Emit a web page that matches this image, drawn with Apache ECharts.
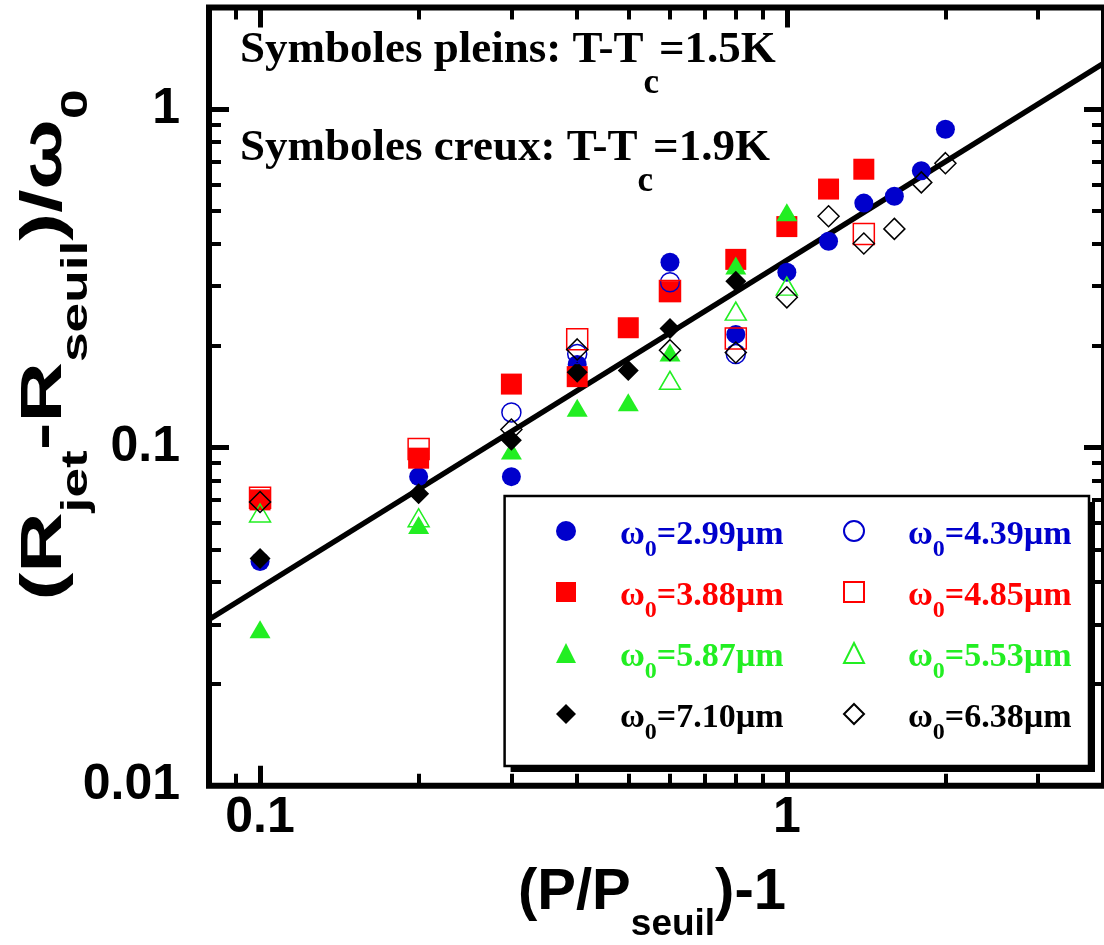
<!DOCTYPE html>
<html>
<head>
<meta charset="utf-8">
<script src="https://cdn.jsdelivr.net/npm/echarts@6/dist/echarts.min.js"></script>
<style>
html, body { margin: 0; padding: 0; background: #fff; }
#chart { width: 1104px; height: 945px; }
</style>
</head>
<body>
<div id="chart"></div>
<script>
// axes
var xRange = [0.08, 4];
var yRange = [0.01, 2];
var xMajor = [0.1, 1];
var xMajorLabels = ['0.1', '1'];
var xMinor = [0.09, 0.2, 0.3, 0.4, 0.5, 0.6, 0.7, 0.8, 0.9, 2, 3];
var yMajor = [0.01, 0.1, 1];
var yMajorLabels = ['0.01', '0.1', '1'];
var yMinor = [0.02, 0.03, 0.04, 0.05, 0.06, 0.07, 0.08, 0.09, 0.2, 0.3, 0.4, 0.5, 0.6, 0.7, 0.8, 0.9, 2];

// symboles pleins : T-Tc = 1.5K
var blueFullX = [0.1, 0.2, 0.3, 0.4, 0.6, 0.8, 1.0, 1.2, 1.4, 1.6, 1.8, 2.0];
var blueFullY = [0.046, 0.082, 0.082, 0.176, 0.353, 0.216, 0.330, 0.407, 0.528, 0.553, 0.658, 0.873];
var redFullX = [0.1, 0.2, 0.3, 0.4, 0.5, 0.6, 0.8, 1.0, 1.2, 1.4];
var redFullY = [0.070, 0.093, 0.154, 0.162, 0.226, 0.289, 0.360, 0.450, 0.581, 0.665];
var greenFullX = [0.1, 0.2, 0.3, 0.4, 0.5, 0.6, 0.8, 1.0];
var greenFullY = [0.029, 0.059, 0.098, 0.131, 0.136, 0.191, 0.345, 0.496];
var blackFullX = [0.1, 0.2, 0.3, 0.4, 0.5, 0.6, 0.8];
var blackFullY = [0.047, 0.073, 0.105, 0.167, 0.169, 0.225, 0.310];

// symboles creux : T-Tc = 1.9K
var blueOpenX = [0.3, 0.4, 0.6, 0.8];
var blueOpenY = [0.127, 0.189, 0.308, 0.189];
var redOpenX = [0.1, 0.2, 0.4, 0.6, 0.8, 1.4];
var redOpenY = [0.071, 0.099, 0.209, 0.290, 0.210, 0.428];
var greenOpenX = [0.1, 0.2, 0.6, 0.8, 1.0];
var greenOpenY = [0.064, 0.062, 0.158, 0.253, 0.300];
var blackOpenX = [0.1, 0.3, 0.4, 0.6, 0.8, 1.0, 1.2, 1.4, 1.6, 1.8, 2.0];
var blackOpenY = [0.069, 0.113, 0.195, 0.194, 0.191, 0.278, 0.483, 0.401, 0.443, 0.608, 0.693];

// droite d'ajustement
var fitX = [0.08, 4];
var fitY = [0.031, 1.37];

var waistFull = ['2.99', '3.88', '5.87', '7.10'];
var waistOpen = ['4.39', '4.85', '5.53', '6.38'];
var colors = ['#0000cc', '#ff0000', '#22ee22', '#000000'];

var SANS = 'Liberation Sans, Arial, sans-serif';
var SERIF = 'Liberation Serif, Times New Roman, serif';

var pts = function(xs, ys) {
	return xs.map(function(x, i) { return [x, ys[i]]; });
};
var lg = function(v) { return Math.log10(v); };
var labelOf = function(vals, labels) {
	return function(v) {
		for (var i = 0; i < vals.length; i++) {
			if (Math.abs(lg(vals[i]) - v) < 1e-6) return labels[i];
		}
		return '';
	};
};

// axes de décoration (graduations), en log10
var tickAxis = function(pos, range, vals, len, width, labels) {
	var ax = {
		type: 'value', position: pos,
		min: lg(range[0]), max: lg(range[1]),
		axisLine: { show: false, onZero: false },
		splitLine: { show: false },
		axisTick: {
			show: true, inside: true, length: len,
			lineStyle: { color: '#000', width: width },
			customValues: vals.map(lg)
		},
		axisLabel: { show: false }
	};
	if (labels) {
		ax.axisLabel = {
			show: true,
			customValues: vals.map(lg),
			formatter: labelOf(vals, labels),
			fontFamily: SANS, fontWeight: 'bold', fontSize: 50, color: '#000',
			margin: pos == 'left' ? 29 : 8
		};
		if (pos == 'left') ax.axisLabel.padding = [0, 0, 12, 0];
	}
	return ax;
};

var legendRich = {
	w: { fontFamily: SERIF, fontWeight: 'bold', fontSize: 34, lineHeight: 34, verticalAlign: 'top', padding: [4, 0, 0, 39] },
	s: { fontFamily: SERIF, fontWeight: 'bold', fontSize: 24, lineHeight: 24, verticalAlign: 'top', padding: [24, 0, 0, 0] },
	t: { fontFamily: SERIF, fontWeight: 'bold', fontSize: 34, lineHeight: 34, verticalAlign: 'top', padding: [4, 0, 0, 0] }
};
var legendFmt = function(name) {
	return '{w|ω}{s|0}{t|' + name.replace('ω0', '') + '}';
};

var fullSym = ['circle', 'rect', 'triangle', 'diamond'];
var fullSize = [19, 21, [21, 18], 21];
var fullData = [pts(blueFullX, blueFullY), pts(redFullX, redFullY), pts(greenFullX, greenFullY), pts(blackFullX, blackFullY)];
var openData = [pts(blueOpenX, blueOpenY), pts(redOpenX, redOpenY), pts(greenOpenX, greenOpenY), pts(blackOpenX, blackOpenY)];

var series = [{
	name: 'fit', type: 'line', data: pts(fitX, fitY),
	symbol: 'none', silent: true, z: 1,
	lineStyle: { color: '#000', width: 5.5 }
}];
fullData.forEach(function(d, i) {
	series.push({
		name: 'ω0=' + waistFull[i] + 'µm', type: 'scatter', data: d, z: 3,
		symbol: fullSym[i], symbolSize: fullSize[i],
		itemStyle: { color: colors[i], opacity: 1 }
	});
});
openData.forEach(function(d, i) {
	series.push({
		name: 'ω0=' + waistOpen[i] + 'µm', type: 'scatter', data: d, z: 4,
		symbol: fullSym[i], symbolSize: fullSize[i],
		itemStyle: { color: 'rgba(0,0,0,0)', borderColor: colors[i], borderWidth: 1.5, opacity: 1 }
	});
});

var legendData = function(ws) {
	return ws.map(function(w, i) {
		return { name: 'ω0=' + w + 'µm', textStyle: { color: colors[i] } };
	});
};
var legendBase = function(left, ws) {
	return {
		orient: 'vertical', left: left, top: 514, z: 20,
		padding: 0, itemWidth: 20, itemHeight: 20, itemGap: 13,
		selectedMode: false,
		textStyle: { rich: legendRich },
		formatter: legendFmt,
		data: legendData(ws)
	};
};

var annoRich = {
	a: { fontFamily: SERIF, fontWeight: 'bold', fontSize: 45, lineHeight: 45, verticalAlign: 'top' },
	s: { fontFamily: SERIF, fontWeight: 'bold', fontSize: 35, lineHeight: 35, verticalAlign: 'top', padding: [38, 0, 0, 0] }
};
var titleRich = {
	a: { fontFamily: SANS, fontWeight: 'bold', fontSize: 58, lineHeight: 58, verticalAlign: 'top' },
	s: { fontFamily: SANS, fontWeight: 'bold', fontSize: 37, lineHeight: 37, verticalAlign: 'top', padding: [42, 0, 0, 0] }
};

var chart = echarts.init(document.getElementById('chart'));
chart.setOption({
	animation: false,
	backgroundColor: '#fff',
	grid: {
		left: 209, right: -3.5, top: 7.5, bottom: 159.3,
		show: true, borderColor: '#000', borderWidth: 6, backgroundColor: 'transparent'
	},
	xAxis: [
		{ type: 'log', logBase: 10, min: xRange[0], max: xRange[1], show: false },
		tickAxis('bottom', xRange, xMajor, 20, 5, xMajorLabels),
		tickAxis('bottom', xRange, xMinor, 12, 4),
		tickAxis('top', xRange, xMajor, 20, 5),
		tickAxis('top', xRange, xMinor, 12, 4)
	],
	yAxis: [
		{ type: 'log', logBase: 10, min: yRange[0], max: yRange[1], show: false },
		tickAxis('left', yRange, yMajor, 20, 5, yMajorLabels),
		tickAxis('left', yRange, yMinor, 12, 4),
		tickAxis('right', yRange, yMajor, 20, 5),
		tickAxis('right', yRange, yMinor, 12, 4)
	],
	legend: [legendBase(556, waistFull), legendBase(843, waistOpen)],
	graphic: [{
		// cadre de la légende avec ombre
		type: 'rect', z: 15, silent: true,
		shape: { x: 510.6, y: 502, width: 584.4, height: 270 },
		style: { fill: '#000' }
	}, {
		type: 'rect', z: 16, silent: true,
		shape: { x: 504.6, y: 496, width: 584.4, height: 270 },
		style: { fill: '#fff', stroke: '#000', lineWidth: 2.5 }
	}, {
		type: 'text', x: 240, y: 28, z: 10,
		style: { text: '{a|Symboles pleins: T-T}{s|c}{a|=1.5K}', rich: annoRich, fill: '#000' }
	}, {
		type: 'text', x: 240, y: 126, z: 10,
		style: { text: '{a|Symboles creux: T-T}{s|c}{a|=1.9K}', rich: annoRich, fill: '#000' }
	}, {
		type: 'text', x: 518, y: 864, z: 10,
		style: { text: '{a|(P/P}{s|seuil}{a|)-1}', rich: titleRich, fill: '#000' }
	}, {
		type: 'text', x: 45, y: 345, z: 10, rotation: Math.PI / 2, scaleX: 1.44,
		style: { text: '{a|(R}{s|jet}{a|-R}{s|seuil}{a|)/ω}{s|0}', rich: titleRich, fill: '#000', align: 'center', verticalAlign: 'middle' }
	}],
	series: series
});
</script>
</body>
</html>
